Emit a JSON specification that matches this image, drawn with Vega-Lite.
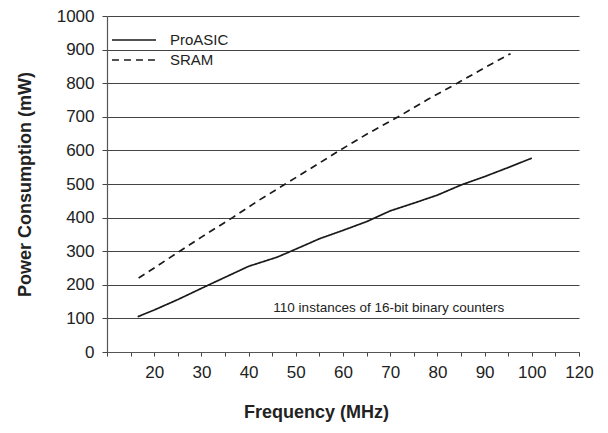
{
  "$schema": "https://vega.github.io/schema/vega-lite/v6.json",
  "width": 472,
  "height": 336,
  "autosize": "none",
  "padding": {"left": 107, "top": 16, "right": 29, "bottom": 81},
  "background": "white",
  "config": {
    "font": "Liberation Sans",
    "view": {"stroke": null},
    "axis": {"labelFont": "Liberation Sans", "titleFont": "Liberation Sans", "labelColor": "#222", "titleColor": "#222"}
  },
  "datasets": {
    "lines": [
      {"series": "ProASIC", "freq": 16.5, "power": 105},
      {"series": "ProASIC", "freq": 20, "power": 125},
      {"series": "ProASIC", "freq": 25, "power": 156},
      {"series": "ProASIC", "freq": 31.6, "power": 200},
      {"series": "ProASIC", "freq": 40, "power": 255},
      {"series": "ProASIC", "freq": 46, "power": 282},
      {"series": "ProASIC", "freq": 49, "power": 300},
      {"series": "ProASIC", "freq": 55, "power": 337},
      {"series": "ProASIC", "freq": 60, "power": 362},
      {"series": "ProASIC", "freq": 65, "power": 388},
      {"series": "ProASIC", "freq": 70, "power": 420},
      {"series": "ProASIC", "freq": 75, "power": 443},
      {"series": "ProASIC", "freq": 80, "power": 467},
      {"series": "ProASIC", "freq": 85, "power": 497},
      {"series": "ProASIC", "freq": 90, "power": 522},
      {"series": "ProASIC", "freq": 95, "power": 549},
      {"series": "ProASIC", "freq": 100, "power": 577},
      {"series": "SRAM", "freq": 16.7, "power": 220},
      {"series": "SRAM", "freq": 20, "power": 250},
      {"series": "SRAM", "freq": 25.4, "power": 300},
      {"series": "SRAM", "freq": 30, "power": 342},
      {"series": "SRAM", "freq": 36.6, "power": 400},
      {"series": "SRAM", "freq": 42, "power": 450},
      {"series": "SRAM", "freq": 47.8, "power": 500},
      {"series": "SRAM", "freq": 53, "power": 545},
      {"series": "SRAM", "freq": 59.3, "power": 600},
      {"series": "SRAM", "freq": 65, "power": 648},
      {"series": "SRAM", "freq": 71.7, "power": 700},
      {"series": "SRAM", "freq": 78, "power": 752},
      {"series": "SRAM", "freq": 84.2, "power": 800},
      {"series": "SRAM", "freq": 90, "power": 846},
      {"series": "SRAM", "freq": 95.5, "power": 888}
    ],
    "note": [
      {"freq": 69.7, "power": 130, "text": "110 instances of 16-bit binary counters"}
    ]
  },
  "encoding": {
    "x": {
      "field": "freq", "type": "quantitative",
      "scale": {"domain": [10, 110], "nice": false, "zero": false},
      "axis": {
        "values": [10, 15, 20, 25, 30, 35, 40, 45, 50, 55, 60, 65, 70, 75, 80, 85, 90, 95, 100, 105, 110],
        "labelExpr": "datum.value == 110 ? '120' : (datum.value >= 20 && datum.value % 10 == 0 ? datum.label : '')",
        "labelFontSize": 17,
        "labelPadding": 8,
        "labelOverlap": false,
        "labelFlush": false,
        "tickSize": 4,
        "tickColor": "#444",
        "domainColor": "#555",
        "domainWidth": 1.2,
        "grid": false,
        "title": "Frequency (MHz)",
        "titleFontSize": 18,
        "titleFontWeight": "bold",
        "titleX": 209,
        "titleY": 60,
        "titleAlign": "center",
        "titleBaseline": "middle"
      }
    },
    "y": {
      "field": "power", "type": "quantitative",
      "scale": {"domain": [0, 1000], "nice": false},
      "axis": {
        "values": [0, 100, 200, 300, 400, 500, 600, 700, 800, 900, 1000],
        "format": "d",
        "labelOverlap": false,
        "labelFlush": false,
        "labelFontSize": 17,
        "labelPadding": 8,
        "tickSize": 5,
        "tickColor": "#444",
        "domainColor": "#555",
        "domainWidth": 1.2,
        "grid": true,
        "gridColor": "#444",
        "gridWidth": 1,
        "title": "Power Consumption (mW)",
        "titleFontSize": 18,
        "titleFontWeight": "bold",
        "titleX": -82,
        "titleY": 168,
        "titleAngle": 270,
        "titleAlign": "center",
        "titleBaseline": "middle"
      }
    }
  },
  "layer": [
    {
      "data": {"name": "lines"},
      "mark": {"type": "line", "color": "#1a1a1a", "strokeWidth": 1.7},
      "encoding": {
        "strokeDash": {
          "field": "series", "type": "nominal",
          "scale": {"domain": ["ProASIC", "SRAM"], "range": [[1, 0], [7, 5]]},
          "legend": {
            "title": null,
            "orient": "none",
            "legendX": 15,
            "legendY": 12,
            "symbolType": "M-2,0H2",
            "symbolSize": 484,
            "symbolStrokeWidth": 1.7,
            "symbolStrokeColor": "#1a1a1a",
            "symbolFillColor": "transparent",
            "labelFontSize": 15,
            "labelColor": "#222",
            "labelOffset": 24,
            "rowPadding": 0
          }
        }
      }
    },
    {
      "data": {"name": "note"},
      "mark": {"type": "text", "fontSize": 13.5, "color": "#222", "align": "center", "baseline": "middle"},
      "encoding": {
        "text": {"field": "text"}
      }
    }
  ]
}
